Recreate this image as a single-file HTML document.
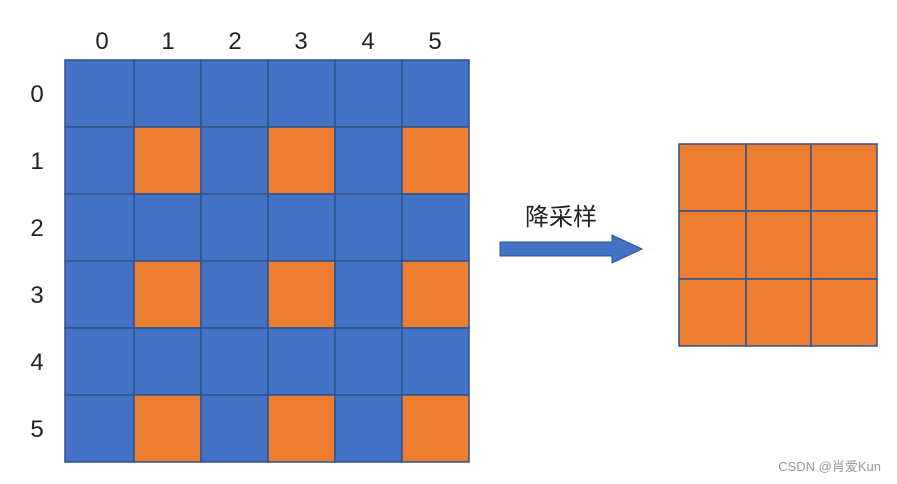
<!DOCTYPE html>
<html><head><meta charset="utf-8"><style>
html,body{margin:0;padding:0;background:#fff;}
svg{display:block;}
</style></head><body>
<svg width="897" height="484" viewBox="0 0 897 484" xmlns="http://www.w3.org/2000/svg">
<g stroke="#2F528F" stroke-width="1.5">
<!-- left grid -->
<g id="g"></g>
</g>
<g stroke="#2F528F" stroke-width="1.5">
<rect x="65" y="60" width="69" height="67" fill="#4472C4"/><rect x="134" y="60" width="67" height="67" fill="#4472C4"/><rect x="201" y="60" width="67" height="67" fill="#4472C4"/><rect x="268" y="60" width="67" height="67" fill="#4472C4"/><rect x="335" y="60" width="67" height="67" fill="#4472C4"/><rect x="402" y="60" width="67" height="67" fill="#4472C4"/>
<rect x="65" y="127" width="69" height="67" fill="#4472C4"/><rect x="134" y="127" width="67" height="67" fill="#ED7D31"/><rect x="201" y="127" width="67" height="67" fill="#4472C4"/><rect x="268" y="127" width="67" height="67" fill="#ED7D31"/><rect x="335" y="127" width="67" height="67" fill="#4472C4"/><rect x="402" y="127" width="67" height="67" fill="#ED7D31"/>
<rect x="65" y="194" width="69" height="67" fill="#4472C4"/><rect x="134" y="194" width="67" height="67" fill="#4472C4"/><rect x="201" y="194" width="67" height="67" fill="#4472C4"/><rect x="268" y="194" width="67" height="67" fill="#4472C4"/><rect x="335" y="194" width="67" height="67" fill="#4472C4"/><rect x="402" y="194" width="67" height="67" fill="#4472C4"/>
<rect x="65" y="261" width="69" height="67" fill="#4472C4"/><rect x="134" y="261" width="67" height="67" fill="#ED7D31"/><rect x="201" y="261" width="67" height="67" fill="#4472C4"/><rect x="268" y="261" width="67" height="67" fill="#ED7D31"/><rect x="335" y="261" width="67" height="67" fill="#4472C4"/><rect x="402" y="261" width="67" height="67" fill="#ED7D31"/>
<rect x="65" y="328" width="69" height="67" fill="#4472C4"/><rect x="134" y="328" width="67" height="67" fill="#4472C4"/><rect x="201" y="328" width="67" height="67" fill="#4472C4"/><rect x="268" y="328" width="67" height="67" fill="#4472C4"/><rect x="335" y="328" width="67" height="67" fill="#4472C4"/><rect x="402" y="328" width="67" height="67" fill="#4472C4"/>
<rect x="65" y="395" width="69" height="67" fill="#4472C4"/><rect x="134" y="395" width="67" height="67" fill="#ED7D31"/><rect x="201" y="395" width="67" height="67" fill="#4472C4"/><rect x="268" y="395" width="67" height="67" fill="#ED7D31"/><rect x="335" y="395" width="67" height="67" fill="#4472C4"/><rect x="402" y="395" width="67" height="67" fill="#ED7D31"/>
<!-- right grid -->
<rect x="679" y="144" width="67" height="67" fill="#ED7D31"/><rect x="746" y="144" width="65" height="67" fill="#ED7D31"/><rect x="811" y="144" width="66" height="67" fill="#ED7D31"/>
<rect x="679" y="211" width="67" height="68" fill="#ED7D31"/><rect x="746" y="211" width="65" height="68" fill="#ED7D31"/><rect x="811" y="211" width="66" height="68" fill="#ED7D31"/>
<rect x="679" y="279" width="67" height="67" fill="#ED7D31"/><rect x="746" y="279" width="65" height="67" fill="#ED7D31"/><rect x="811" y="279" width="66" height="67" fill="#ED7D31"/>
</g>
<!-- arrow -->
<polygon points="500,242 612,242 612,235 642,249 612,263 612,256 500,256" fill="#4472C4" stroke="#2F528F" stroke-width="1"/>
<g font-family="Liberation Sans, sans-serif" font-size="24" fill="#222" text-anchor="middle">
<text x="102" y="49">0</text><text x="168" y="49">1</text><text x="235" y="49">2</text><text x="301" y="49">3</text><text x="368" y="49">4</text><text x="435" y="49">5</text>
<text x="37" y="102">0</text><text x="37" y="169">1</text><text x="37" y="236">2</text><text x="37" y="303">3</text><text x="37" y="370">4</text><text x="37" y="437">5</text>
</g>
<text x="561" y="225" font-family="Liberation Sans, 'Noto Sans CJK SC', sans-serif" font-size="24" fill="#222" text-anchor="middle">降采样</text>
<text x="881" y="471" font-family="Liberation Sans, 'Noto Sans CJK SC', sans-serif" font-size="13" fill="#999" text-anchor="end">CSDN @肖爱Kun</text>
</svg>
</body></html>
